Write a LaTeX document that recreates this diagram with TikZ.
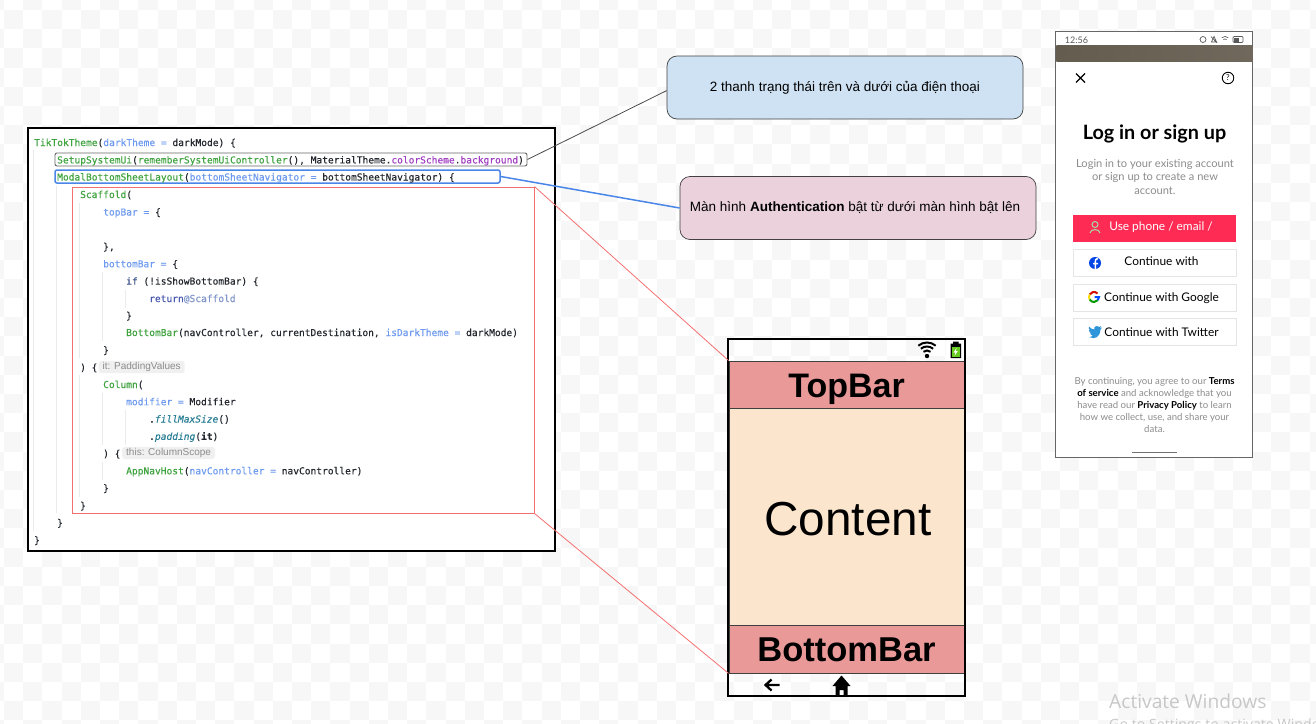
\documentclass[tikz,border=0pt]{standalone}
\usepackage{fontspec}
\setmainfont{Liberation Sans}
\setmonofont{DejaVu Sans Mono}[FakeBold=0.25]
\newfontfamily\appfont{Lato}
\newfontfamily\winfont{Open Sans}
\usetikzlibrary{arrows.meta,calc,positioning}

\definecolor{checkgray}{HTML}{F7F7F7}
\definecolor{kwgreen}{HTML}{3FA33F}
\definecolor{argblue}{HTML}{6E9BEF}
\definecolor{codeink}{HTML}{23272E}
\definecolor{propurple}{HTML}{A23FC2}
\definecolor{retblue}{HTML}{4A5BB0}
\definecolor{atblue}{HTML}{7F95C9}
\definecolor{calteal}{HTML}{2B7F96}
\definecolor{kwnavy}{HTML}{3B5488}
\definecolor{linkblue}{HTML}{4A86E8}
\definecolor{scaffoldred}{HTML}{F47070}
\definecolor{noteblue}{HTML}{CFE2F3}
\definecolor{notepink}{HTML}{EAD1DC}
\definecolor{barred}{HTML}{EA9999}
\definecolor{barpeach}{HTML}{FCE5CD}
\definecolor{btnred}{HTML}{FE2C55}
\definecolor{bandleft}{HTML}{645C4E}
\definecolor{bandright}{HTML}{70685C}
\definecolor{batgreen}{HTML}{66CC22}
\newcommand{\fnname}[1]{\textcolor{kwgreen}{#1}}
\newcommand{\pname}[1]{\textcolor{argblue}{#1}}
\newcommand{\propname}[1]{\textcolor{propurple}{#1}}

\begin{document}
\begin{tikzpicture}[
  x=1pt, y=-1pt,
  codepanel/.style={draw=black, line width=2.5pt, fill=white, minimum width=527, minimum height=423, inner sep=0},
  codeline/.style={anchor=base west, inner sep=0, text=codeink, font=\ttfamily\fontsize{9.57}{11}\selectfont},
  guide/.style={draw=black!8, line width=0.8pt},
  chipbox/.style={anchor=west, fill=black!6, rounded corners=3pt, inner xsep=4pt, inner ysep=1.5pt, text=black!45, font=\fontsize{10}{11}\selectfont},
  notebox/.style={draw=black!75, line width=0.7pt, rounded corners=10pt, minimum width=356, minimum height=63, inner sep=0, font=\fontsize{13.5}{15}\selectfont},
  marker/.style={rounded corners=2pt, inner sep=0},
  barbox/.style={draw=black!75, line width=0.8pt, fill=#1, minimum width=235, inner sep=0, text depth=0pt},
  apptext/.style={inner sep=0, font=\appfont\fontsize{11.1}{13.5}\selectfont},
  appbtn/.style={draw=black!10, line width=0.7pt, fill=white, minimum width=163, minimum height=27, inner sep=0},
  wintext/.style={anchor=west, inner sep=0, text=black!22}
]
\clip (0,0) rectangle (1316,723);

\foreach \rowi in {0,...,38} \foreach \coli in {0,...,69} {
  \pgfmathtruncatemacro{\cellodd}{mod(\rowi+\coli,2)}
  \ifnum\cellodd=0 \fill[checkgray] ({-15.2+19.2*\coli},{-9.2+19.2*\rowi}) rectangle +(19.2,19.2); \fi
}

\node[codepanel] (codePanel) at (291.5,339.5) {};
\foreach \gx/\gtop/\gbot in {33/150/531, 56/186/513, 79/203/358, 79/375/497, 102/272/341, 125/290/308, 102/393/445, 125/410/445, 102/462/480}
  \draw[guide] (\gx,\gtop) -- (\gx,\gbot);

\node[marker, draw=black!60, line width=0.9pt, minimum width=472, minimum height=13] (setupBox) at (291,159.5) {};
\node[marker, draw=linkblue, line width=1.5pt, minimum width=445, minimum height=13] (modalBox) at (277.5,176.5) {};
\node[draw=scaffoldred, line width=0.9pt, minimum width=461.5, minimum height=326, inner sep=0] (scaffoldBox) at (303.25,350) {};

\node[codeline] (themeLine) at (34,146) {\fnname{TikTokTheme}(\pname{darkTheme = }darkMode) \{};
\node[codeline] (setupLine) at (57,163.4) {\fnname{SetupSystemUi}(\fnname{rememberSystemUiController}(), MaterialTheme.\propname{colorScheme}.\propname{background})};
\node[codeline] (modalLine) at (57,180.5) {\fnname{ModalBottomSheetLayout}(\pname{bottomSheetNavigator = }bottomSheetNavigator) \{};
\node[codeline] (scaffoldLine) at (80,198) {\fnname{Scaffold}(};
\node[codeline] (topBarLine) at (103,215.5) {\pname{topBar = }\{};
\node[codeline] (topEndLine) at (103,250) {\},};
\node[codeline] (bottomBarLine) at (103,267.3) {\pname{bottomBar = }\{};
\node[codeline] (ifLine) at (126,284.6) {\textcolor{kwnavy}{if} (!isShowBottomBar) \{};
\node[codeline] (returnLine) at (149,302) {\textcolor{retblue}{return}\textcolor{atblue}{@Scaffold}};
\node[codeline] (ifEndLine) at (126,319) {\}};
\node[codeline] (bottomCallLine) at (126,336) {\fnname{BottomBar}(navController, currentDestination, \pname{isDarkTheme = }darkMode)};
\node[codeline] (bottomEndLine) at (103,353.5) {\}};
\node[codeline] (paddingLine) at (80,370.8) {) \{};
\node[chipbox] (paddingChip) at (98.5,367) {it: PaddingValues};
\node[codeline] (columnLine) at (103,388) {\fnname{Column}(};
\node[codeline] (modifierLine) at (126,405.2) {\pname{modifier = }Modifier};
\node[codeline] (fillLine) at (149,422.5) {.\textcolor{calteal}{\itshape fillMaxSize}()};
\node[codeline] (paddingCallLine) at (149,439.8) {.\textcolor{calteal}{\itshape padding}(\textbf{it})};
\node[codeline] (columnEndLine) at (103,457) {) \{};
\node[chipbox] (scopeChip) at (122,453) {this: ColumnScope};
\node[codeline] (navHostLine) at (126,474.3) {\fnname{AppNavHost}(\pname{navController = }navController)};
\node[codeline] (contentEndLine) at (103,491.5) {\}};
\node[codeline] (scaffoldEndLine) at (80,509) {\}};
\node[codeline] (modalEndLine) at (57,526.2) {\}};
\node[codeline] (themeEndLine) at (34,543.5) {\}};

\node[notebox, fill=noteblue] (statusNote) at (845,87.5) {2 thanh trạng thái trên và dưới của điện thoại};
\node[notebox, fill=notepink] (authNote) at (858,208) {\hspace*{-6pt}Màn hình \textbf{Authentication} bật từ dưới màn hình bật lên};

\fill[white] (946,340) rectangle (964,360) (763,674) rectangle (781,695) (833,674) rectangle (851,695);
\node[barbox=barred, minimum height=47, text height=25.6pt, font=\bfseries\fontsize{34}{40}\selectfont] (topBarBox) at (846.5,384.5) {TopBar};
\node[barbox=barpeach, minimum height=217, text height=38.2pt, font=\fontsize{47.7}{56}\selectfont] (contentBox) at (846.5,516.5) {\hspace*{3pt}Content};
\node[barbox=barred, minimum height=48, text height=24.6pt, font=\bfseries\fontsize{34.5}{40}\selectfont] (bottomBarBox) at (846.5,649) {BottomBar};
\node[draw=black, line width=2pt, minimum width=237, minimum height=357, inner sep=0] (phoneFrame) at (846.5,517.5) {};

\fill (927,356) circle[radius=2.2pt];
\foreach \wr in {5.5,9.5,13.5}
  \draw[line width=2pt] (927,356) ++(50:\wr pt) arc[start angle=50, end angle=130, radius=\wr pt];
\fill (953,341.5) rectangle (958.5,344) (950.5,343.5) rectangle (961,358);
\fill[batgreen] (951.5,346.5) rectangle (960,357);
\fill[white] (956.5,348) -- (953.5,352.5) -- (955.5,352.5) -- (954.5,356) -- (957.8,351) -- (955.8,351) -- cycle;
\draw[line width=2.3pt] (779.5,685) -- (766,685) (771.5,679.5) -- (765.5,685) -- (771.5,690.5);
\fill[line join=round] (841.5,675.5) -- (850.5,686) -- (847.5,686) -- (847.5,695) -- (843.5,695) -- (843.5,690) -- (839.5,690) -- (839.5,695) -- (835.5,695) -- (835.5,686) -- (832.5,686) -- cycle;

\node[draw=black!60, line width=1pt, fill=white, minimum width=197, minimum height=426, inner sep=0] (loginPhone) at (1154.4,244) {};
\node[inner sep=0, minimum width=196, minimum height=16, left color=bandleft, right color=bandright] (wallpaperBand) at (1154.4,53) {};
\node[apptext, text=black!65, font=\appfont\fontsize{9}{11}\selectfont] (clockText) at (1076.5,40) {12:56};
\draw[black!65, line width=0.7pt] (1203,39.5) circle[radius=3pt] (1211,36.5) -- (1217,43) (1214,36.5) -- (1211.5,42) -- (1216.5,42) -- cycle;
\draw[black!65, line width=0.7pt] (1225,41.5) ++(50:5pt) arc[start angle=50, end angle=130, radius=5pt] (1225,41.5) ++(50:2.5pt) arc[start angle=50, end angle=130, radius=2.5pt];
\draw[black!65, line width=0.7pt, rounded corners=1pt] (1233,36.5) rectangle (1243,42.5);
\fill[black!65] (1234,37.5) rectangle (1238.5,41.5);
\draw[black, line width=1.3pt] (1076,73.5) -- (1085,82.5) (1085,73.5) -- (1076,82.5);
\node[draw=black, circle, line width=0.9pt, minimum size=11.5, inner sep=0, font=\appfont\fontsize{8}{9}\selectfont] (helpIcon) at (1228,78) {?};
\node[apptext, font=\appfont\bfseries\fontsize{19.8}{22}\selectfont] (loginTitle) at (1154.5,134.2) {Log in or sign up};
\node[apptext, text=black!45, align=center] (loginSub) at (1155,176.6) {Login in to your existing account\\or sign up to create a new\\account.};
\node[appbtn, draw=none, fill=btnred] (phoneBtn) at (1154.5,228) {};
\node[apptext, text=white, font=\appfont\fontsize{11.9}{14}\selectfont] (phoneText) at (1161,227.5) {Use phone / email /};
\draw[black!40!green!35!white, line width=1pt] (1095,224.5) circle[radius=3pt] (1090,233) .. controls (1090,228.5) and (1100,228.5) .. (1100,233);
\node[appbtn] (facebookBtn) at (1154.5,262.5) {};
\node[apptext, font=\appfont\fontsize{11.9}{14}\selectfont] (facebookText) at (1161.5,261.5) {Continue with};
\fill[blue!70!cyan!90!black] (1095,263) circle[radius=6pt];
\draw[white, line width=1.5pt] (1098,258.5) .. controls (1095.5,258.5) and (1095.3,260) .. (1095.3,262) -- (1095.3,269) (1093,263.5) -- (1098,263.5);
\node[appbtn] (googleBtn) at (1154.5,297.5) {};
\node[apptext, font=\appfont\fontsize{11.9}{14}\selectfont] (googleText) at (1161.5,298) {Continue with Google};
\begin{scope}[line width=2pt]
  \draw[red!80!black!90!orange] (1094,297) ++(45:5pt) arc[start angle=45, end angle=150, radius=5pt];
  \draw[yellow!80!orange] (1094,297) ++(150:5pt) arc[start angle=150, end angle=210, radius=5pt];
  \draw[green!60!black] (1094,297) ++(210:5pt) arc[start angle=210, end angle=320, radius=5pt];
  \draw[blue!70!cyan] (1094,297) ++(320:5pt) arc[start angle=320, end angle=360, radius=5pt] -- (1094.5,297);
\end{scope}
\node[appbtn] (twitterBtn) at (1154.5,332) {};
\node[apptext, font=\appfont\fontsize{11.9}{14}\selectfont] (twitterText) at (1161.5,332) {Continue with Twitter};
\fill[cyan!70!blue!85] (1089,337) .. controls (1095,340) and (1100,337) .. (1100.5,329.5) -- (1102,327.5) -- (1100,328) -- (1101,326) -- (1099,327) .. controls (1097,325) and (1093,326.5) .. (1094.5,329.5) .. controls (1092,329.5) and (1090,328) .. (1089,326.5) .. controls (1088.5,328) and (1089,329.5) .. (1090,330.5) -- (1089,330) .. controls (1089,332) and (1090,333) .. (1091.5,333.5) -- (1090,333.5) .. controls (1090.5,335) and (1092,335.5) .. (1093,335.5) .. controls (1092,336.5) and (1090.5,337) .. (1089,337) -- cycle;
\node[apptext, text=black!45, align=center, font=\appfont\fontsize{9.6}{12}\selectfont] (loginFooter) at (1154.5,405) {By continuing, you agree to our \textcolor{black}{\textbf{Terms}}\\\textcolor{black}{\textbf{of service}} and acknowledge that you\\have read our \textcolor{black}{\textbf{Privacy Policy}} to learn\\how we collect, use, and share your\\data.};
\node[minimum width=45, inner sep=0, fill=black!55, minimum height=1] (homeIndicator) at (1154.5,452.5) {};

\node[wintext, font=\winfont\fontsize{19.2}{22}\selectfont] (activateText) at (1109,701) {Activate Windows};
\node[wintext, font=\winfont\fontsize{14.2}{16}\selectfont] (settingsText) at (1109,726) {Go to Settings to activate Windows.};

\draw[black!70, line width=0.8pt] (setupBox.east) -- (statusNote.181.4);
\draw[linkblue, line width=1.5pt] (modalBox.east) -- (authNote.west);
\draw[scaffoldred, line width=0.8pt] (scaffoldBox.north east) -- (topBarBox.north west);
\draw[scaffoldred, line width=0.8pt] (scaffoldBox.south east) -- (bottomBarBox.south west);
\end{tikzpicture}
\end{document}
